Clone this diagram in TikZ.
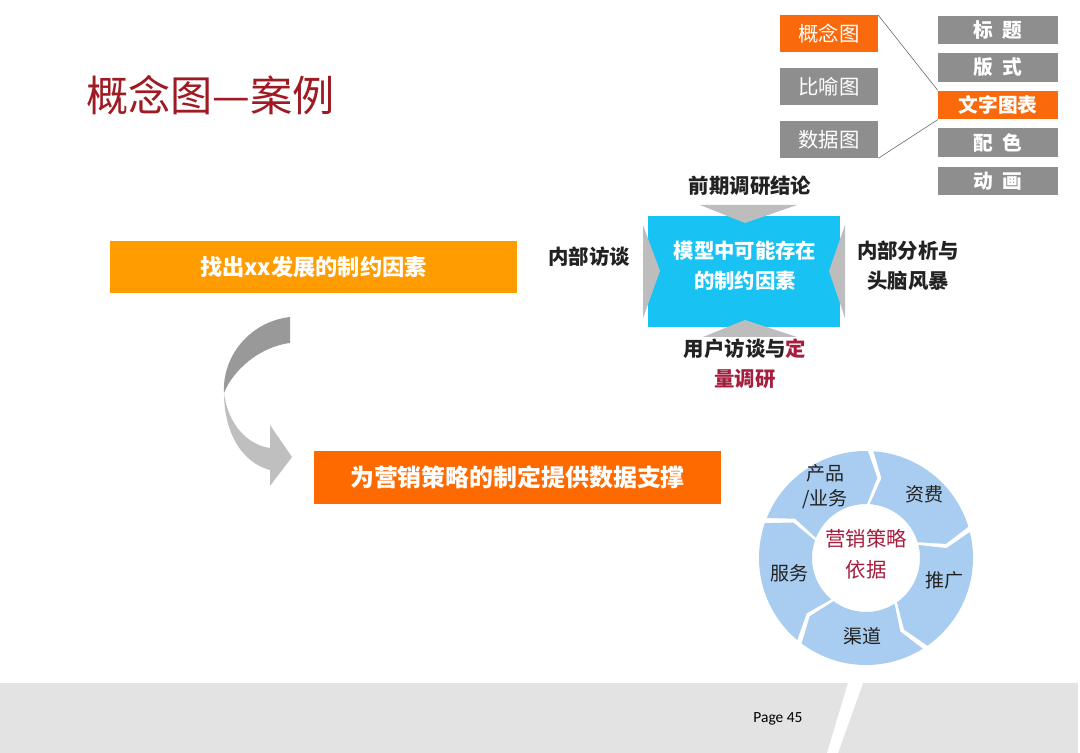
\documentclass[tikz,border=0pt]{standalone}
\usepackage{fontspec}
\setmainfont{Noto Sans CJK SC}
\newfontfamily\pagefont{Carlito}
\definecolor{titlered}{HTML}{9E1B23}
\definecolor{deepred}{HTML}{A51E3E}
\definecolor{amber}{HTML}{FF9C00}
\definecolor{flame}{HTML}{FF6A00}
\definecolor{tagorange}{HTML}{FA6A0C}
\definecolor{taggray}{HTML}{8E8E8E}
\definecolor{skycyan}{HTML}{18C3F4}
\definecolor{notchgray}{HTML}{BDBDBD}
\definecolor{ringblue}{HTML}{A8CDF0}
\definecolor{footgray}{HTML}{E3E3E3}
\definecolor{inkgray}{HTML}{222222}

\begin{document}
\begin{tikzpicture}[x=0.025cm,y=-0.025cm,
  tagbox/.style={minimum width=2.45cm,minimum height=0.925cm,inner sep=0pt,text=white,font=\fontsize{14.5}{16}\selectfont},
  itembox/.style={minimum width=3cm,minimum height=0.72cm,inner sep=0pt,text=white,font=\fontsize{14}{16}\selectfont\bfseries},
  barbox/.style={minimum width=10.175cm,minimum height=1.3cm,inner sep=0pt,text=white,font=\fontsize{15.8}{18}\selectfont\bfseries},
  lab/.style={text=inkgray,font=\fontsize{14.5}{21.5}\selectfont\bfseries,align=center,inner sep=0pt},
  ringlab/.style={text=inkgray,font=\fontsize{13.5}{18}\selectfont,align=center,inner sep=0pt}]

\useasboundingbox (0,0) rectangle (1080,753);
\fill[white] (0,0) rectangle (1080,753);

% footer band
\fill[footgray] (0,683) rectangle (1078,753);
\fill[white] (848,683) -- (863,683) -- (838,753) -- (827,753) -- cycle;
\node[font=\pagefont\fontsize{11}{13}\selectfont] (page) at (778,719) {Page 45};

% title
\node[anchor=west,text=titlered,font=\fontsize{30}{32}\selectfont,inner sep=0pt] (title) at (86,95) {概念图—案例};

% top right tags
\foreach \y/\lab/\col/\nm in {34/概念图/tagorange/gnt, 86.5/比喻图/taggray/byt, 139.5/数据图/taggray/sjt}
  \node[tagbox,fill=\col] (\nm) at (829,\y) {\lab};
\foreach \y/\lab/\col/\nm in {30/标\hspace{0.5em}题/taggray/bt, 67.5/版\hspace{0.5em}式/taggray/bs, 105/文字图表/tagorange/wztb, 142.5/配\hspace{0.5em}色/taggray/ps, 181/动\hspace{0.5em}画/taggray/dh}
  \node[itembox,fill=\col] (\nm) at (998,\y) {\lab};
\draw[taggray!70!black] (gnt.north east) -- (wztb.north west);
\draw[taggray!70!black] (sjt.south east) -- (wztb.south west);

% model box with inward notches
\node[fill=skycyan,minimum width=4.775cm,minimum height=2.75cm,inner sep=0pt] (model) at (744,271.5) {};
\fill[notchgray] (700,205) -- (797,205) -- (745,223) -- cycle;
\fill[notchgray] (703,337) -- (797,337) -- (745,320) -- cycle;
\fill[notchgray] (643,225) -- (660,271) -- (643,318) -- cycle;
\fill[notchgray] (845,225) -- (829,271) -- (845,318) -- cycle;
\node[lab,text=white] (modeltxt) at (745,266) {模型中可能存在\\的制约因素};

\node[lab] (pre) at (750,186) {前期调研结论};
\node[lab] (inner) at (589,257) {内部访谈};
\node[lab] (analy) at (908,266) {内部分析与\\头脑风暴};
\node[lab] (user) at (745,364) {用户访谈与\textcolor{deepred}{定}\\\textcolor{deepred}{量调研}};

% bars
\node[barbox,fill=amber] (find) at (313.5,267) {找出xx发展的制约因素};
\node[barbox,fill=flame,font=\fontsize{17}{18}\selectfont\bfseries] (support) at (517.5,477.5) {为营销策略的制定提供数据支撑};

% curved arrow
\fill[gray!80] (290,317) .. controls (248,322) and (222,358) .. (224,393)
  .. controls (232,372) and (258,347) .. (290,343) -- cycle;
\fill[gray!50] (224,393) .. controls (228,425) and (248,445) .. (270,448)
  -- (270,425) -- (292,457) -- (270,486) -- (270,470)
  .. controls (240,462) and (224,430) .. (224,393) -- cycle;

% cycle ring
\begin{scope}[shift={(866,558)},yscale=-1]
\foreach \a in {86,14,-58,-130,-202}{
  \pgfmathsetmacro\b{\a-69}
  \fill[ringblue] (\a:107) arc[start angle=\a,end angle=\b,radius=107]
    -- (\b-7:81) -- (\b:54) arc[start angle=\b,end angle=\a,radius=54]
    -- (\a-7:81) -- cycle;
}
\end{scope}
\node[ringlab] (prod) at (825,487) {产品\\/业务};
\node[ringlab] (fee) at (924,494) {资费};
\node[ringlab] (promo) at (944,580) {推广};
\node[ringlab] (chan) at (862,636) {渠道};
\node[ringlab] (serv) at (789,573) {服务};
\node[ringlab,text=deepred,font=\fontsize{14.5}{22}\selectfont] (basis) at (866,554) {营销策略\\依据};
\end{tikzpicture}
\end{document}
